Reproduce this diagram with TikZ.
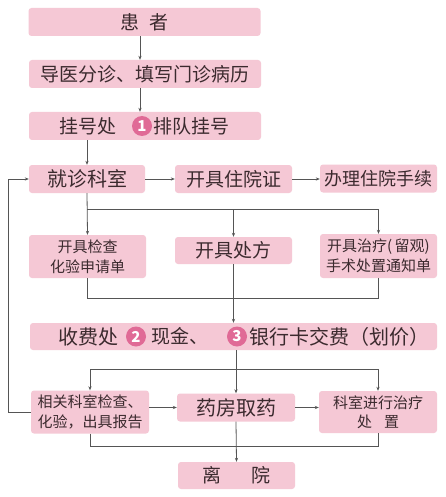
\documentclass[tikz,border=0pt]{standalone}
\usepackage{fontspec}
\setmainfont{Noto Sans CJK SC}
\usetikzlibrary{arrows.meta}
\definecolor{boxpink}{HTML}{F5C8D5}
\definecolor{circpink}{HTML}{E06A96}
\definecolor{txt}{HTML}{3B2A2E}
\definecolor{linegray}{HTML}{555555}
\tikzset{
  box/.style={fill=boxpink, rounded corners=3pt, inner sep=0pt, text=txt, align=center},
  lbl/.style={inner sep=0pt, text=txt, align=center},
  circ/.style={circle, fill=circpink, text=white, inner sep=0pt, minimum size=20pt, font=\fontsize{15}{15}\selectfont\bfseries},
  conn/.style={draw=linegray, line width=0.8pt},
  arr/.style={conn, -{Stealth[length=4pt,width=3.2pt]}},
  big/.style={font=\fontsize{19}{19}\selectfont},
  small/.style={font=\fontsize{15}{19.5}\selectfont}
}
\begin{document}
\begin{tikzpicture}[x=1pt,y=-1pt]
\useasboundingbox[fill=white] (0,0) rectangle (445,497);
% rows 1-3
\node[box,big,minimum width=232pt,minimum height=28pt] (p1) at (144.5,22) {患\hspace{11pt}者};
\node[box,big,minimum width=232pt,minimum height=28pt] (p2) at (145,74) {导医分诊、填写门诊病历};
\node[box,minimum width=232pt,minimum height=28pt] (p3) at (145,126) {};
\node[lbl,big] (t3a) at (88,126) {挂号处};
\node[circ] (c1) at (142,126) {1};
\node[lbl,big] (t3b) at (191.5,126) {排队挂号};
% row 4
\node[box,font=\fontsize{20}{20}\selectfont,minimum width=116pt,minimum height=28pt] (p4a) at (87,179) {就诊科室};
\node[box,big,minimum width=117pt,minimum height=28pt] (p4b) at (233.5,179) {开具住院证};
\node[box,font=\fontsize{18}{18}\selectfont,minimum width=117pt,minimum height=28pt] (p4c) at (378.5,178.5) {办理住院手续};
% row 5
\node[box,small,minimum width=117pt,minimum height=43pt] (p5a) at (87.5,256.5) {开具检查\\化验申请单};
\node[box,big,minimum width=117pt,minimum height=27pt] (p5b) at (233.5,250.5) {开具处方};
\node[box,small,minimum width=117pt,minimum height=44pt] (p5c) at (378.5,256) {开具治疗(\,留观)\\手术处置通知单};
% row 6
\node[box,minimum width=407pt,minimum height=27pt] (p6) at (233.5,336.5) {};
\node[lbl,font=\fontsize{20}{20}\selectfont] (t6a) at (88,336.5) {收费处};
\node[circ] (c2) at (136,336.5) {2};
\node[lbl,font=\fontsize{19}{19}\selectfont] (t6b) at (180,336.5) {现金、};
\node[circ] (c3) at (237,336.5) {3};
\node[lbl,font=\fontsize{20}{20}\selectfont] (t6c) at (339,336.5) {银行卡交费（划价）};
% row 7
\node[box,small,minimum width=118pt,minimum height=43pt] (p7a) at (90,412) {相关科室检查、\\化验，出具报告};
\node[box,font=\fontsize{20}{20}\selectfont,minimum width=118pt,minimum height=28pt] (p7b) at (236,407.5) {药房取药};
\node[box,small,minimum width=118pt,minimum height=42pt] (p7c) at (378,412) {科室进行治疗\\处\hspace{12pt}置};
% row 8
\node[box,big,minimum width=117pt,minimum height=27pt] (p8) at (236.5,475.5) {离\hspace{31pt}院};
% helper coordinates
\coordinate (x140) at (140,0);
\coordinate (br1) at (0,209);
\coordinate (mg1) at (0,298);
\coordinate (br2) at (0,369);
\coordinate (mg2) at (0,446);
\coordinate (fb) at (8,0);
% connectors
\draw[arr] (p1.south -| x140) -- (p2.north -| x140);
\draw[arr] (p2.south -| x140) -- (p3.north -| x140);
\draw[arr] (p3.south -| p4a) -- (p4a.north);
\draw[arr] (p4a.east) -- (p4b.west);
\draw[arr] (p4b.east) -- (p4c.west |- p4b);
\draw[arr] (p4a.south) -- (p5a.north);
\draw[arr] (p4a.south |- br1) -| (p5c.north);
\draw[arr] (p5b.north |- br1) -- (p5b.north);
\draw[conn] (p5a.south) -- (p5a.south |- mg1) -- (p5c.south |- mg1) -- (p5c.south);
\draw[arr] (p5b.south) -- (p6.north -| p5b);
\draw[arr] (p6.south -| p7b) -- (p7b.north);
\draw[arr] (p7b.north |- br2) -| (p7a.north);
\draw[arr] (p7b.north |- br2) -| (p7c.north);
\draw[arr] (p7a.east |- p7b) -- (p7b.west);
\draw[arr] (p7b.east) -- (p7c.west |- p7b);
\draw[conn] (p7a.south) -- (p7a.south |- mg2) -- (p7c.south |- mg2) -- (p7c.south);
\draw[arr] (p7b.south) -- (p8.north);
\draw[arr] (p7a.west) -- (p7a.west -| fb) |- (p4a.west);
\end{tikzpicture}
\end{document}
